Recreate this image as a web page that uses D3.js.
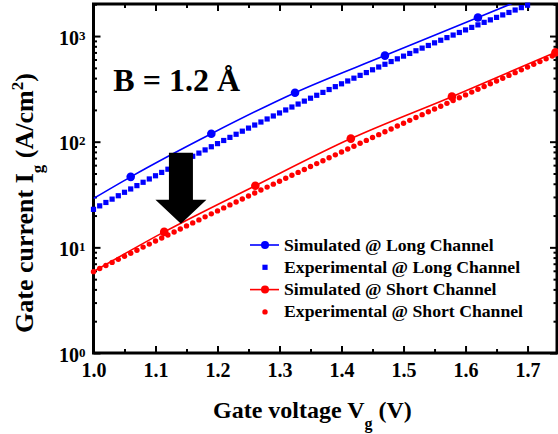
<!DOCTYPE html>
<html>
<head>
<meta charset="utf-8">
<script src="https://cdn.jsdelivr.net/npm/d3@7"></script>
<style>
  body { margin: 0; background: #fff; }
  svg text { font-family: "Liberation Serif", "Times New Roman", serif; font-weight: bold; fill: #000; }
</style>
</head>
<body>
<div id="viz"></div>
<script>
// ---- data ----
// simulated (solid line, big circles where marked)
var simLongV   = [1.00, 1.06, 1.19, 1.325, 1.47, 1.62, 1.75];
var simLongI   = [29, 46.5, 119, 291, 653, 1497, 3100];
var simLongMk  = [0, 1, 1, 1, 1, 1, 0];
var simShortV  = [1.00, 1.114, 1.261, 1.415, 1.578, 1.745];
var simShortI  = [5.9, 14.0, 38.3, 107, 267, 700];
var simShortMk = [0, 1, 1, 1, 1, 1];

// experimental, sampled every 10 mV
var expV = [1.00, 1.01, 1.02, 1.03, 1.04, 1.05, 1.06, 1.07, 1.08, 1.09,
            1.10, 1.11, 1.12, 1.13, 1.14, 1.15, 1.16, 1.17, 1.18, 1.19,
            1.20, 1.21, 1.22, 1.23, 1.24, 1.25, 1.26, 1.27, 1.28, 1.29,
            1.30, 1.31, 1.32, 1.33, 1.34, 1.35, 1.36, 1.37, 1.38, 1.39,
            1.40, 1.41, 1.42, 1.43, 1.44, 1.45, 1.46, 1.47, 1.48, 1.49,
            1.50, 1.51, 1.52, 1.53, 1.54, 1.55, 1.56, 1.57, 1.58, 1.59,
            1.60, 1.61, 1.62, 1.63, 1.64, 1.65, 1.66, 1.67, 1.68, 1.69,
            1.70, 1.71, 1.72, 1.73, 1.74, 1.75];
var expLongI = [22.9, 24.7, 26.6, 28.6, 30.8, 33.2, 35.7, 38.4, 41.3, 44.4,
                47.6, 51.2, 54.9, 59.0, 63.3, 67.9, 72.8, 78.0, 83.6, 89.6,
                95.9, 102.7, 109.9, 117.6, 125.8, 134.5, 143.8, 153.6, 164.1, 175.2,
                187.1, 199.7, 213.0, 227.2, 242.2, 258.1, 275.0, 292.9, 311.8, 331.9,
                353.2, 375.6, 399.4, 424.6, 451.2, 479.5, 509.2, 540.6, 573.7, 608.6,
                645.7, 684.6, 725.6, 768.9, 814.5, 862.5, 912.9, 966.2, 1022, 1081,
                1143, 1208, 1276, 1348, 1423, 1502, 1585, 1672, 1764, 1859,
                1959];
var expShortI = [5.89, 6.30, 6.73, 7.20, 7.70, 8.23, 8.80, 9.40, 10.05, 10.74,
                 11.48, 12.26, 13.10, 13.99, 14.94, 15.96, 17.04, 18.20, 19.43, 20.75,
                 22.14, 23.63, 25.22, 26.91, 28.72, 30.64, 32.69, 34.86, 37.19, 39.66,
                 42.29, 45.09, 48.07, 51.24, 54.62, 58.22, 62.04, 66.12, 70.43, 75.06,
                 79.94, 85.16, 90.70, 96.56, 102.9, 109.5, 116.6, 124.1, 132.1, 140.6,
                 149.6, 159.2, 169.4, 180.3, 191.8, 204.0, 216.9, 230.7, 245.3, 260.8,
                 277.3, 294.7, 313.2, 332.9, 353.8, 375.8, 399.3, 424.2, 450.6, 478.6,
                 508.4, 539.9, 573.2, 608.5, 646.2, 686.1];

var xMajor = [1.0, 1.1, 1.2, 1.3, 1.4, 1.5, 1.6, 1.7];
var xMinor = [1.05, 1.15, 1.25, 1.35, 1.45, 1.55, 1.65];
var yMajor = [1, 10, 100, 1000];
var yExp   = ["0", "1", "2", "3"];

var legendLabels = ["Simulated @ Long Channel", "Experimental @ Long Channel",
                    "Simulated @ Short Channel", "Experimental @ Short Channel"];

// arrow annotation (data coords)
var arrowV = 1.141, arrowTop = 78.7, arrowNeck = 28.2, arrowTip = 16.7;

// ---- layout ----
var W = 558, H = 434;
var m = {left: 93.5, top: 4, right: 1, bottom: 81};
var pw = W - m.left - m.right;
var ph = H - m.top - m.bottom;

var svg = d3.select("#viz").append("svg")
    .attr("width", W)
    .attr("height", H);

var x = d3.scaleLinear().domain([1.0, 1.7475]).range([0, pw]);
var y = d3.scaleLog().domain([1, 2011]).range([ph, 0]);

var g = svg.append("g").attr("transform", "translate(" + m.left + "," + m.top + ")");

svg.append("defs").append("clipPath").attr("id", "clip")
  .append("rect").attr("width", pw).attr("height", ph);

var yMinor = [];
yMajor.forEach(function(d) { for (var k = 2; k <= 9; k++) if (d * k < 2011) yMinor.push(d * k); });

// axes (ticks point inward)
var ax = g.append("g").attr("class", "axes");
ax.append("g").attr("transform", "translate(0," + ph + ")")
    .call(d3.axisBottom(x).tickValues(xMajor).tickFormat(d3.format(".1f")).tickSizeInner(-7).tickSizeOuter(0).tickPadding(10));
ax.append("g").attr("transform", "translate(0," + ph + ")")
    .call(d3.axisBottom(x).tickValues(xMinor).tickFormat("").tickSizeInner(-4).tickSizeOuter(0));
ax.append("g")
    .call(d3.axisTop(x).tickValues(xMajor).tickFormat("").tickSizeInner(-7).tickSizeOuter(0));
ax.append("g")
    .call(d3.axisTop(x).tickValues(xMinor).tickFormat("").tickSizeInner(-4).tickSizeOuter(0));

var yl = ax.append("g")
    .call(d3.axisLeft(y).tickValues(yMajor).tickSizeInner(-7).tickSizeOuter(0).tickPadding(8));
ax.append("g")
    .call(d3.axisLeft(y).tickValues(yMinor).tickFormat("").tickSizeInner(-3.5).tickSizeOuter(0));
ax.append("g").attr("transform", "translate(" + pw + ",0)")
    .call(d3.axisRight(y).tickValues(yMajor).tickFormat("").tickSizeInner(-7).tickSizeOuter(0));
ax.append("g").attr("transform", "translate(" + pw + ",0)")
    .call(d3.axisRight(y).tickValues(yMinor).tickFormat("").tickSizeInner(-3.5).tickSizeOuter(0));

ax.selectAll(".domain").remove();
ax.selectAll(".tick line").attr("stroke", "#000").attr("stroke-width", 2);
ax.selectAll(".tick text").attr("font-size", 20).attr("font-family", null);

// 10^n labels
yl.selectAll(".tick text").each(function(d, i) {
  var t = d3.select(this).text("10").attr("dy", "0.4em");
  t.append("tspan").attr("dy", -5).attr("font-size", 13).text(yExp[i]);
});

// frame
g.append("rect").attr("width", pw).attr("height", ph)
    .attr("fill", "none").attr("stroke", "#000").attr("stroke-width", 3);

// ---- series ----
var plot = g.append("g");

function simLine(V, I, color) {
  var pts = V.map(function(v, i) { return [v, I[i]]; });
  plot.append("path").datum(pts)
      .attr("clip-path", "url(#clip)")
      .attr("fill", "none").attr("stroke", color).attr("stroke-width", 1.6)
      .attr("d", d3.line().x(function(d) { return x(d[0]); }).y(function(d) { return y(d[1]); })
                .curve(d3.curveMonotoneX));
}
function simMarks(V, I, M, color) {
  plot.selectAll(null).data(V.filter(function(v, i) { return M[i]; }).map(function(v) { return [v, I[V.indexOf(v)]]; }))
    .enter().append("circle")
      .attr("cx", function(d) { return x(d[0]); })
      .attr("cy", function(d) { return y(d[1]); })
      .attr("r", 4.3).attr("fill", color);
}

// experimental long: squares
plot.selectAll(".sqL").data(expLongI).enter().append("rect")
    .attr("x", function(d, i) { return x(expV[i]) - 2.6; })
    .attr("y", function(d) { return y(d) - 2.6; })
    .attr("width", 5.2).attr("height", 5.2)
    .attr("fill", "#0000ff");

// experimental short: dots
plot.selectAll(".dotS").data(expShortI).enter().append("circle")
    .attr("cx", function(d, i) { return x(expV[i]); })
    .attr("cy", function(d) { return y(d); })
    .attr("r", 2.7)
    .attr("fill", "#ff0000");

simLine(simLongV, simLongI, "#0000ff");
simMarks(simLongV, simLongI, simLongMk, "#0000ff");
simLine(simShortV, simShortI, "#ff0000");
simMarks(simShortV, simShortI, simShortMk, "#ff0000");

// arrow
var ax0 = x(arrowV), yt = y(arrowTop), yn = y(arrowNeck), yp = y(arrowTip);
g.append("path")
    .attr("d", "M" + (ax0 - 12) + "," + yt + "H" + (ax0 + 12) + "V" + yn + "H" + (ax0 + 25.5) +
               "L" + ax0 + "," + yp + "L" + (ax0 - 25.5) + "," + yn + "H" + (ax0 - 12) + "Z")
    .attr("fill", "#000");

// B = 1.2 Å
g.append("text")
    .attr("x", x(1.032)).attr("y", y(300))
    .attr("font-size", 32)
    .text("B = 1.2 Å");

// legend
var leg = svg.append("g").attr("transform", "translate(250,245)");
var colors = ["#0000ff", "#0000ff", "#ff0000", "#ff0000"];
legendLabels.forEach(function(lab, i) {
  var row = leg.append("g").attr("transform", "translate(0," + (i * 22.3) + ")");
  if (i % 2 === 0) {
    row.append("line").attr("x1", 0).attr("x2", 29).attr("stroke", colors[i]).attr("stroke-width", 1.6);
    row.append("circle").attr("cx", 15).attr("r", 4).attr("fill", colors[i]);
  } else if (i === 1) {
    row.append("rect").attr("x", 12.4).attr("y", -2.6).attr("width", 5.2).attr("height", 5.2).attr("fill", colors[i]);
  } else {
    row.append("circle").attr("cx", 15).attr("r", 2.7).attr("fill", colors[i]);
  }
  row.append("text").attr("x", 34).attr("y", 5.5).attr("font-size", 17.7).text(lab);
});

// axis titles
var xt = svg.append("text").attr("x", 213).attr("y", 418).attr("font-size", 24);
xt.append("tspan").text("Gate voltage V");
xt.append("tspan").attr("dy", 11).attr("font-size", 16).text("g");
xt.append("tspan").attr("dy", -11).text(" (V)");

var ytl = svg.append("text").attr("transform", "translate(33,333) rotate(-90)").attr("font-size", 26);
ytl.append("tspan").text("Gate current I");
ytl.append("tspan").attr("dy", 10).attr("font-size", 17).text("g");
ytl.append("tspan").attr("dy", -10).text(" (A/cm");
ytl.append("tspan").attr("dy", -10).attr("font-size", 17).text("2");
ytl.append("tspan").attr("dy", 10).text(")");
</script>
</body>
</html>
